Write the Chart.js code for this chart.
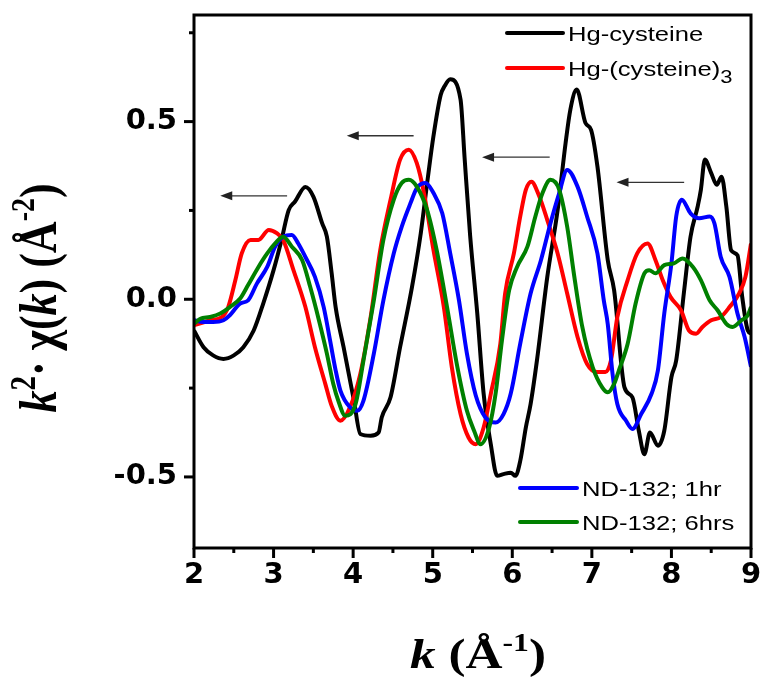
<!DOCTYPE html>
<html>
<head>
<meta charset="utf-8">
<script src="https://cdn.jsdelivr.net/npm/chart.js@4.4.0/dist/chart.umd.min.js"></script>
<style>
  body { margin: 0; background: #fff; }
  canvas { display: block; }
</style>
</head>
<body>
<canvas id="exafs" width="763" height="681"></canvas>
<script>
// k^2-weighted EXAFS, chi(k) vs k (1/A)

var kCys = [2.00,2.12,2.24,2.37,2.50,2.62,2.75,2.87,3.00,3.10,3.19,3.27,3.40,3.50,3.61,3.67,3.73,3.78,3.88,4.01,4.09,4.22,4.32,4.36,4.47,4.59,4.74,4.85,4.93,5.01,5.10,5.15,5.22,5.35,5.40,5.47,5.56,5.64,5.73,5.81,5.89,5.98,6.04,6.10,6.17,6.23,6.31,6.44,6.57,6.67,6.73,6.81,6.92,6.99,7.07,7.20,7.28,7.41,7.51,7.59,7.66,7.73,7.83,7.91,8.00,8.06,8.16,8.24,8.33,8.37,8.42,8.50,8.57,8.63,8.69,8.75,8.83,8.89,8.96,9.00];
var chiCys = [-0.088,-0.135,-0.158,-0.168,-0.158,-0.135,-0.088,-0.012,0.082,0.167,0.251,0.275,0.316,0.289,0.214,0.176,0.073,-0.022,-0.135,-0.285,-0.379,-0.384,-0.375,-0.332,-0.276,-0.135,0.035,0.186,0.327,0.460,0.575,0.600,0.619,0.562,0.400,0.180,-0.040,-0.266,-0.408,-0.497,-0.492,-0.488,-0.497,-0.455,-0.361,-0.295,-0.172,0.063,0.251,0.440,0.534,0.590,0.496,0.477,0.374,0.110,0.025,-0.248,-0.276,-0.370,-0.436,-0.375,-0.412,-0.370,-0.219,-0.172,0.025,0.176,0.261,0.308,0.393,0.355,0.322,0.345,0.261,0.138,0.124,0.006,-0.088,-0.096];

var kCys3 = [2.00,2.08,2.20,2.35,2.43,2.52,2.60,2.71,2.81,2.94,3.04,3.12,3.25,3.40,3.52,3.65,3.73,3.84,3.96,4.09,4.22,4.34,4.47,4.59,4.70,4.80,4.89,5.01,5.14,5.24,5.35,5.45,5.54,5.64,5.73,5.85,5.91,6.02,6.10,6.17,6.24,6.34,6.44,6.57,6.69,6.82,6.94,7.07,7.17,7.24,7.32,7.45,7.57,7.70,7.80,7.89,7.99,8.12,8.22,8.31,8.39,8.50,8.62,8.73,8.85,8.93,9.00];
var chiCys3 = [-0.073,-0.068,-0.059,-0.050,-0.022,0.054,0.129,0.167,0.167,0.195,0.186,0.167,0.082,-0.022,-0.135,-0.238,-0.300,-0.342,-0.304,-0.210,-0.050,0.138,0.280,0.393,0.421,0.383,0.299,0.138,-0.022,-0.191,-0.323,-0.389,-0.408,-0.361,-0.266,-0.125,0.016,0.129,0.233,0.308,0.331,0.289,0.223,0.129,0.016,-0.106,-0.182,-0.205,-0.205,-0.172,-0.050,0.054,0.129,0.157,0.110,0.054,0.006,-0.031,-0.088,-0.097,-0.078,-0.059,-0.050,-0.022,0.016,0.063,0.157];

var k1hr = [2.00,2.12,2.24,2.37,2.45,2.58,2.68,2.79,2.92,3.02,3.12,3.23,3.31,3.40,3.52,3.63,3.71,3.78,3.84,3.96,4.05,4.13,4.26,4.38,4.51,4.61,4.72,4.80,4.91,5.01,5.12,5.22,5.33,5.43,5.54,5.66,5.79,5.89,5.98,6.10,6.23,6.36,6.48,6.59,6.69,6.82,6.94,7.07,7.15,7.20,7.26,7.32,7.43,7.51,7.62,7.75,7.83,7.91,8.00,8.06,8.13,8.24,8.35,8.48,8.54,8.62,8.73,8.83,8.92,9.00];
var chi1hr = [-0.059,-0.064,-0.064,-0.059,-0.045,-0.012,-0.003,0.044,0.091,0.148,0.176,0.181,0.157,0.119,0.063,-0.022,-0.116,-0.200,-0.257,-0.304,-0.314,-0.285,-0.153,-0.003,0.129,0.204,0.270,0.313,0.327,0.299,0.242,0.129,-0.003,-0.153,-0.270,-0.332,-0.347,-0.323,-0.266,-0.125,0.016,0.110,0.214,0.299,0.364,0.317,0.233,0.129,-0.003,-0.070,-0.210,-0.295,-0.342,-0.365,-0.323,-0.266,-0.200,-0.040,0.101,0.233,0.280,0.242,0.228,0.233,0.214,0.119,0.063,-0.040,-0.106,-0.190];

var k6hrs = [2.00,2.08,2.20,2.33,2.45,2.58,2.68,2.81,2.92,3.02,3.12,3.23,3.36,3.46,3.57,3.67,3.75,3.82,3.90,4.03,4.13,4.26,4.38,4.51,4.61,4.70,4.80,4.93,5.05,5.18,5.31,5.43,5.52,5.60,5.71,5.79,5.87,5.96,6.06,6.19,6.29,6.38,6.48,6.59,6.69,6.78,6.88,7.01,7.13,7.20,7.28,7.34,7.45,7.55,7.66,7.72,7.80,7.91,8.03,8.14,8.27,8.37,8.48,8.58,8.69,8.77,8.88,8.96,9.00];
var chi6hrs = [-0.069,-0.055,-0.050,-0.040,-0.022,0.002,0.040,0.091,0.129,0.157,0.176,0.148,0.110,0.035,-0.059,-0.153,-0.238,-0.290,-0.328,-0.295,-0.172,-0.003,0.167,0.280,0.327,0.336,0.317,0.251,0.138,-0.022,-0.191,-0.314,-0.370,-0.408,-0.361,-0.266,-0.116,0.025,0.091,0.148,0.233,0.299,0.336,0.308,0.204,0.063,-0.078,-0.191,-0.248,-0.262,-0.238,-0.200,-0.125,-0.012,0.073,0.082,0.073,0.096,0.101,0.115,0.091,0.054,-0.003,-0.031,-0.069,-0.078,-0.059,-0.045,-0.022];

// peak shift arrows: [tail k, head k, chi level]
var shiftArrows = [[3.17, 2.33, 0.291], [4.76, 3.92, 0.460], [6.47, 5.62, 0.400], [8.16, 7.31, 0.329]];

var xTicks = [2, 3, 4, 5, 6, 7, 8, 9];
var xMinor = [2.5, 3.5, 4.5, 5.5, 6.5, 7.5, 8.5];
var yTicks = [-0.5, 0, 0.5];
var yMinor = [-0.25, 0.25, 0.75];

var SX = 1.22;   // the whole figure is drawn a bit wide
var serif = 'Liberation Serif';
var sans = 'Liberation Sans';

function pts(k, v) {
  return k.map(function (x, i) { return { x: x, y: v[i] }; });
}

function richText(ctx, parts, x, y) {
  parts.forEach(function (p) {
    ctx.font = p.f;
    ctx.fillText(p.t, x, y + (p.dy || 0));
    x += ctx.measureText(p.t).width;
  });
}
function richWidth(ctx, parts) {
  var w = 0;
  parts.forEach(function (p) { ctx.font = p.f; w += ctx.measureText(p.t).width; });
  return w;
}

// keep the plot box fixed: no extra room for overhanging tick labels
function noMargins(s) {
  s.paddingTop = 0; s.paddingBottom = 0; s.paddingLeft = 0; s.paddingRight = 0;
}

var frame = {
  id: 'frame',
  afterDraw: function (chart) {
    var ctx = chart.ctx, a = chart.chartArea;
    var xs = chart.scales.x, ys = chart.scales.y;
    ctx.save();
    ctx.strokeStyle = '#000';
    ctx.fillStyle = '#000';
    ctx.lineWidth = 3;
    ctx.strokeRect(a.left, a.top, a.right - a.left, a.bottom - a.top);

    // outward tick marks
    ctx.lineCap = 'butt';
    function tick(x1, y1, x2, y2) { ctx.beginPath(); ctx.moveTo(x1, y1); ctx.lineTo(x2, y2); ctx.stroke(); }
    xTicks.forEach(function (v) { var p = xs.getPixelForValue(v); tick(p, a.bottom, p, a.bottom + 10); });
    xMinor.forEach(function (v) { var p = xs.getPixelForValue(v); tick(p, a.bottom, p, a.bottom + 5); });
    yTicks.forEach(function (v) { var p = ys.getPixelForValue(v); tick(a.left, p, a.left - 10, p); });
    yMinor.forEach(function (v) { var p = ys.getPixelForValue(v); tick(a.left, p, a.left - 5, p); });

    // arrows marking the shift to lower k
    ctx.strokeStyle = '#333';
    ctx.fillStyle = '#222';
    ctx.lineWidth = 1.4;
    shiftArrows.forEach(function (r) {
      var x0 = xs.getPixelForValue(r[0]), x1 = xs.getPixelForValue(r[1]), y = ys.getPixelForValue(r[2]);
      tick(x0, y, x1 + 10, y);
      ctx.beginPath();
      ctx.moveTo(x1, y);
      ctx.lineTo(x1 + 12, y - 4.5);
      ctx.lineTo(x1 + 12, y + 4.5);
      ctx.closePath();
      ctx.fill();
    });

    // legend, split in two corners
    var ds = chart.data.datasets;
    var f = '21px ' + sans;
    var items = [
      { d: 0, x0: 507, x1: 563, y: 33, parts: [{ t: 'Hg-cysteine', f: f }] },
      { d: 1, x0: 507, x1: 563, y: 68, parts: [{ t: 'Hg-(cysteine)', f: f }, { t: '3', f: '18px ' + sans, dy: 7 }] },
      { d: 2, x0: 520, x1: 577, y: 488, parts: [{ t: 'ND-132; 1hr', f: f }] },
      { d: 3, x0: 520, x1: 577, y: 522, parts: [{ t: 'ND-132; 6hrs', f: f }] }
    ];
    ctx.lineWidth = 4;
    ctx.lineCap = 'round';
    items.forEach(function (it) {
      ctx.strokeStyle = ds[it.d].borderColor;
      tick(it.x0, it.y, it.x1, it.y);
      ctx.save();
      ctx.translate(it.x1 + 5, it.y);
      ctx.scale(SX, 1);
      ctx.fillStyle = '#000';
      ctx.textBaseline = 'alphabetic';
      richText(ctx, it.parts, 0, 7.5);
      ctx.restore();
    });

    // axis titles
    var big = 'bold 42px ' + serif, it42 = 'italic bold 42px ' + serif, sup = 'bold 26px ' + serif;
    var xt = [{ t: 'k', f: it42 }, { t: ' (', f: big }, { t: 'Å', f: big }, { t: '-1', f: sup, dy: -17 }, { t: ')', f: big }];
    ctx.fillStyle = '#000';
    ctx.textBaseline = 'alphabetic';
    ctx.save();
    ctx.translate(478, 668);
    ctx.scale(SX, 1);
    richText(ctx, xt, -richWidth(ctx, xt) / 2, 0);
    ctx.restore();

    var b44 = 'bold 44px ' + serif, i44 = 'italic bold 44px ' + serif;
    var yt = [{ t: 'k', f: i44 }, { t: '2', f: 'bold 29px ' + serif, dy: -17 }, { t: '\u00b7 ', f: b44 },
              { t: 'χ', f: b44 }, { t: '(', f: b44 }, { t: 'k', f: i44 }, { t: ') (', f: b44 },
              { t: 'Å', f: b44 }, { t: '-2', f: 'bold 28px ' + serif, dy: -18 }, { t: ')', f: b44 }];
    ctx.save();
    ctx.translate(56, 298);
    ctx.scale(SX, 1);
    ctx.rotate(-Math.PI / 2);
    richText(ctx, yt, -richWidth(ctx, yt) / 2, 0);
    ctx.restore();
    ctx.restore();
  }
};

var tickFont = { family: 'DejaVu Sans', weight: 'bold', size: 29 };

new Chart(document.getElementById('exafs'), {
  type: 'line',
  data: {
    datasets: [
      { label: 'Hg-cysteine', data: pts(kCys, chiCys), borderColor: '#000000', order: 4 },
      { label: 'Hg-(cysteine)3', data: pts(kCys3, chiCys3), borderColor: '#ff0000', order: 3 },
      { label: 'ND-132; 1hr', data: pts(k1hr, chi1hr), borderColor: '#0000ff', order: 2 },
      { label: 'ND-132; 6hrs', data: pts(k6hrs, chi6hrs), borderColor: '#008000', order: 1 }
    ]
  },
  options: {
    responsive: false,
    animation: false,
    devicePixelRatio: 1,
    layout: { padding: { top: 15, right: 12, left: 0, bottom: 0 } },
    elements: {
      point: { radius: 0 },
      line: { borderWidth: 4, cubicInterpolationMode: 'monotone', fill: false, borderJoinStyle: 'round' }
    },
    plugins: { legend: { display: false }, tooltip: { enabled: false } },
    scales: {
      x: {
        type: 'linear', min: 2, max: 9,
        grid: { display: false, drawTicks: false },
        border: { display: false },
        afterBuildTicks: function (s) { s.ticks = xTicks.map(function (v) { return { value: v }; }); },
        afterFit: function (s) { s.height = 133; noMargins(s); },
        ticks: { padding: 10, color: '#000', font: tickFont, maxRotation: 0, autoSkip: false }
      },
      y: {
        type: 'linear', min: -0.7, max: 0.8,
        grid: { display: false, drawTicks: false },
        border: { display: false },
        afterBuildTicks: function (s) { s.ticks = yTicks.map(function (v) { return { value: v }; }); },
        afterFit: function (s) { s.width = 194; noMargins(s); },
        ticks: {
          padding: 17, color: '#000', font: tickFont,
          callback: function (v) { return v.toFixed(1); }
        }
      }
    }
  },
  plugins: [frame]
});
</script>
</body>
</html>
